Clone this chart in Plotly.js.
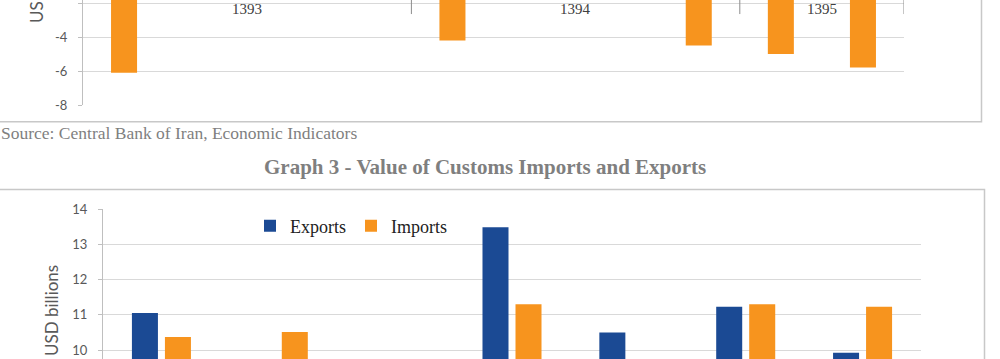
<!DOCTYPE html>
<html><head><meta charset="utf-8">
<script src="https://cdn.plot.ly/plotly-3.0.1.min.js"></script>
<style>html,body{margin:0;padding:0;background:#fff;overflow:hidden}#chart{width:1000px;height:359px}</style>
</head><body><div id="chart"></div>
<script>
// ---- Graph 2 (top, partially visible): quarterly values, USD billions ----
const topYears    = ["1393","1393","1393","1393","1394","1394","1394","1394","1395","1395"];
const topQuarters = ["Q1","Q2","Q3","Q4","Q1","Q2","Q3","Q4","Q1","Q2"];
const topValues   = [-6.1, null, null, null, -4.2, null, null, -4.5, -5.0, -5.8];
const topTickVals = [-8, -6, -4, -2];
const topTickText = ["-8", "-6", "-4", "-2"];
const topYTitleVisible = "US";   // only the start of the cropped axis title is visible

// ---- Graph 3 (bottom): Value of Customs Imports and Exports ----
const periods   = ["P1","P2","P3","P4","P5","P6","P7"];
const exportsV  = [11.05, null, null, 13.48, 10.5, 11.23, 9.92];
const importsV  = [10.37, 10.51, null, 11.3, null, 11.3, 11.23];
const botTickVals = [10, 11, 12, 13, 14];
const botTickText = ["10", "11", "12", "13", "14"];

const sourceText = "Source: Central Bank of Iran, Economic Indicators";
const graphTitle = "Graph 3 - Value of Customs Imports and Exports";
const yTitle = "USD billions";

const W = 1000, H = 359;
const py = p => 1 - p / H;      // pixel-from-top -> paper
const ORANGE = "#F7941E", BLUE = "#1B4A94";

const topCats = topYears.map((y, i) => y + " " + topQuarters[i]);

const traces = [
  {type:"bar", x: topCats, y: topValues, xaxis:"x", yaxis:"y", marker:{color:ORANGE},
   width: 0.317, showlegend:false, name:"Balance", hoverinfo:"skip"},
  {type:"bar", x: periods, y: exportsV, xaxis:"x2", yaxis:"y2", marker:{color:BLUE}, name:"Exports", hoverinfo:"skip"},
  {type:"bar", x: periods, y: importsV, xaxis:"x2", yaxis:"y2", marker:{color:ORANGE}, name:"Imports", hoverinfo:"skip"}
];

// year group labels and dividers from the category arrays
const annotations = [];
const shapes = [];
const uniqYears = [...new Set(topYears)];
uniqYears.forEach(yr => {
  const idx = topYears.map((y, i) => y === yr ? i : -1).filter(i => i >= 0);
  const mid = (idx[0] + idx[idx.length - 1]) / 2;
  annotations.push({xref:"x", yref:"paper", x: mid, y: 1, text: yr, showarrow:false, borderpad:0,
    xanchor:"center", yanchor:"top", font:{family:"Liberation Serif", size:15, color:"#404040"}});
  const b = idx[idx.length - 1] + 0.5;
  shapes.push({type:"line", xref:"x", yref:"y", x0:b, x1:b, y0:-1.8235, y1:-2.65, line:{color:"#8c8c8c", width:1}});
});

// axis titles (rotated)
annotations.push({xref:"paper", yref:"paper", x: 36/W, y: py(12), text: topYTitleVisible, textangle:-90, showarrow:false,
  borderpad:0, xanchor:"center", yanchor:"middle", font:{family:"Lato", size:17, color:"#595959"}});
annotations.push({xref:"paper", yref:"paper", x: 51.5/W, y: py(310.5), text: yTitle, textangle:-90, showarrow:false,
  xanchor:"center", yanchor:"middle", font:{family:"Lato", size:17, color:"#595959"}});
// source + graph title
annotations.push({xref:"paper", yref:"paper", x: 0, y: py(133), text: sourceText, showarrow:false, borderpad:0,
  xanchor:"left", yanchor:"middle", font:{family:"Liberation Serif", size:17.5, color:"#7f7f7f"}});
annotations.push({xref:"paper", yref:"paper", x: 485/W, y: py(167), text: "<b>" + graphTitle + "</b>", showarrow:false,
  xanchor:"center", yanchor:"middle", font:{family:"Liberation Serif", size:21, color:"#7f7f7f"}});

// chart frames
shapes.push({type:"rect", xref:"paper", yref:"paper", x0:-0.02, x1:981.5/W, y0:py(121.7), y1:1.1,
  line:{color:"#c8c8c8", width:1.5}, fillcolor:"rgba(0,0,0,0)", layer:"below"});
shapes.push({type:"rect", xref:"paper", yref:"paper", x0:-0.02, x1:984.5/W, y0:-0.1, y1:py(189.5),
  line:{color:"#c8c8c8", width:1.5}, fillcolor:"rgba(0,0,0,0)", layer:"below"});

const yCommon = {showgrid:true, gridcolor:"#d9d9d9", gridwidth:1, zeroline:false, showline:true,
  linecolor:"#bfbfbf", linewidth:1, ticks:"outside", ticklen:4, tickcolor:"#bfbfbf",
  tickfont:{family:"Lato", size:13, color:"#595959"}, ticklabelstandoff:8, tickmode:"array"};

const layout = {
  width: W, height: H, margin:{l:0, r:0, t:0, b:0},
  paper_bgcolor:"#ffffff", plot_bgcolor:"rgba(0,0,0,0)",
  barmode:"group", bargap:0.435, bargroupgap:0.212,
  xaxis:{domain:[83/W, 904/W], anchor:"y", type:"category", range:[-0.5, 9.5],
    showticklabels:false, ticks:"", showgrid:false, zeroline:false, showline:false, fixedrange:true},
  yaxis:Object.assign({}, yCommon, {domain:[py(105), 1], anchor:"x", range:[-8, -1.8235],
    tickvals: topTickVals, ticktext: topTickText}),
  xaxis2:{domain:[103/W, 921/W], anchor:"y2", type:"category", range:[-0.5, 6.5],
    showticklabels:false, ticks:"", showgrid:false, zeroline:false, showline:false},
  yaxis2:Object.assign({}, yCommon, {domain:[0, py(209)], anchor:"x2", range:[9.745, 14],
    tickvals: botTickVals, ticktext: botTickText}),
  showlegend:true,
  legend:{orientation:"h", x: 250/W, y: py(226), xanchor:"left", yanchor:"middle",
    bgcolor:"rgba(0,0,0,0)", borderwidth:0,
    font:{family:"Liberation Serif", size:18, color:"#222"}, traceorder:"normal"},
  annotations: annotations,
  shapes: shapes
};

Plotly.newPlot("chart", traces, layout, {staticPlot:true, displayModeBar:false});
</script></body></html>
